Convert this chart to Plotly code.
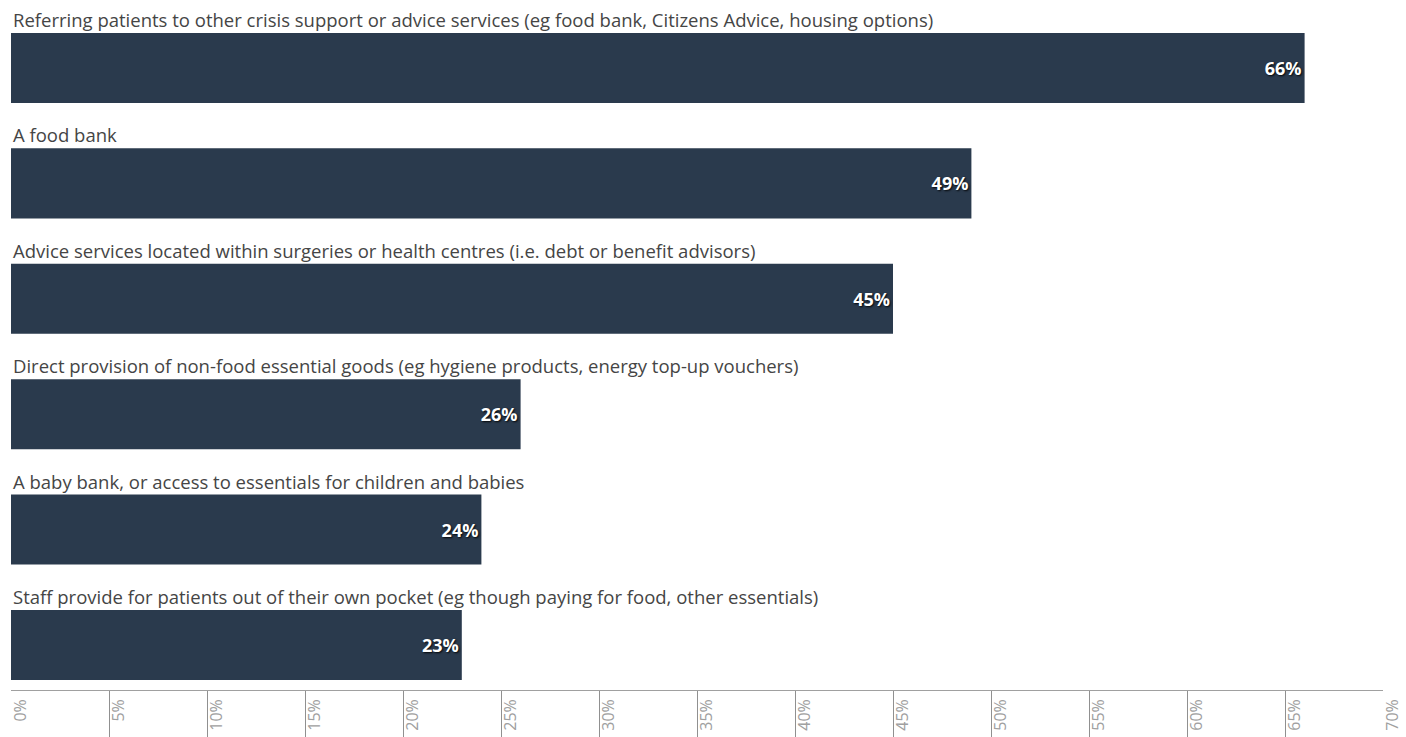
import plotly.graph_objects as go

categories = [
    "Referring patients to other crisis support or advice services (eg food bank, Citizens Advice, housing options)",
    "A food bank",
    "Advice services located within surgeries or health centres (i.e. debt or benefit advisors)",
    "Direct provision of non-food essential goods (eg hygiene products, energy top-up vouchers)",
    "A baby bank, or access to essentials for children and babies",
    "Staff provide for patients out of their own pocket (eg though paying for food, other essentials)",
]
values = [66, 49, 45, 26, 24, 23]
tick_values = list(range(0, 75, 5))
tick_labels = [f"{v}%" for v in tick_values]

BAR = "#2a3a4d"
FONT = "Open Sans"

fig = go.Figure()
fig.add_trace(go.Bar(
    x=values, y=categories, orientation="h",
    marker=dict(color=BAR, line=dict(width=0)),
    width=0.607,
    text=[f"{v}%" for v in values],
    textposition="inside", insidetextanchor="end",
    textfont=dict(family=FONT, size=18, color="white", weight="bold",
                  shadow="1px 1px 2px rgba(0,0,0,0.9)"),
    cliponaxis=False, hoverinfo="skip",
    xaxis="x", yaxis="y",
))
fig.add_trace(go.Scatter(x=[0, 70], y=[0, 0], mode="markers",
                         marker=dict(opacity=0), xaxis="x2", yaxis="y2",
                         hoverinfo="skip", showlegend=False))

for c in categories:
    fig.add_annotation(x=0, xref="paper", y=c, yref="y", yshift=34,
                       xanchor="left", yanchor="bottom", showarrow=False,
                       text=c, font=dict(family=FONT, size=18.5, color="#454545"))

strip_top = (737 - 691) / 737
fig.update_layout(
    width=1406, height=737,
    margin=dict(l=11, r=23, t=0, b=0),
    paper_bgcolor="white", plot_bgcolor="white",
    showlegend=False,
    xaxis=dict(domain=[0, 1], range=[0, 70], anchor="y", side="bottom",
               showline=False, showgrid=False, zeroline=False, ticks="",
               tickvals=tick_values, ticktext=tick_labels,
               tickangle=-90, ticklabelposition="outside",
               ticklabeloverflow="allow", ticklabelstandoff=4,
               ticklabelshift=10,
               tickfont=dict(family=FONT, size=16, color="#a0a0a0", weight=400)),
    yaxis=dict(domain=[strip_top, 1], categoryorder="array",
               categoryarray=categories, range=[5.399, -0.589],
               visible=False),
    xaxis2=dict(domain=[0, 1], range=[0, 70], anchor="y2", side="top",
                showline=True, linecolor="#a0a0a0", linewidth=1,
                showgrid=True, gridcolor="#909090", gridwidth=1,
                zeroline=False, ticks="", showticklabels=False,
                tickvals=tick_values),
    yaxis2=dict(domain=[0, strip_top], range=[0, 1], visible=False,
                anchor="x2"),
)

fig.write_html("out.html", config={"displayModeBar": False},
               post_script="document.body.style.margin='0';")
